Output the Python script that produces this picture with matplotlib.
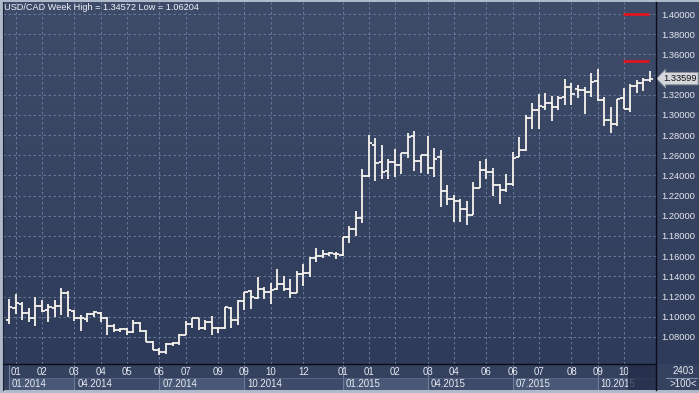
import numpy as np
import matplotlib
matplotlib.use("Agg")
import matplotlib.pyplot as plt
from matplotlib.colors import LinearSegmentedColormap
from matplotlib.patches import Rectangle
from matplotlib.lines import Line2D

# USD/CAD weekly bars (open / high / low / close), first bar = week of 20.01.2014
opens = [1.0964, 1.1083, 1.1130, 1.1034, 1.0991, 1.1110, 1.1067, 1.1090, 1.1106, 1.1232,
         1.1057, 1.0991, 1.0978, 1.1024, 1.1034, 1.0991, 1.0912, 1.0865, 1.0879, 1.0845,
         1.0935, 1.0859, 1.0753, 1.0670, 1.0654, 1.0727, 1.0736, 1.0819, 1.0925, 1.0984,
         1.0892, 1.0951, 1.0885, 1.0885, 1.1091, 1.0965, 1.1154, 1.1256, 1.1190, 1.1273,
         1.1240, 1.1273, 1.1322, 1.1279, 1.1236, 1.1421, 1.1435, 1.1577, 1.1600, 1.1617,
         1.1626, 1.1610, 1.1792, 1.1865, 1.1974, 1.2397, 1.2701, 1.2536, 1.2443, 1.2536,
         1.2503, 1.2625, 1.2790, 1.2546, 1.2602, 1.2469, 1.2585, 1.2244, 1.2164, 1.2148,
         1.2065, 1.2012, 1.2277, 1.2452, 1.2435, 1.2310, 1.2260, 1.2313, 1.2584, 1.2650,
         1.2970, 1.3046, 1.3079, 1.3113, 1.3079, 1.3178, 1.3278, 1.3261, 1.3251, 1.3228,
         1.3334, 1.3152, 1.2947, 1.2914, 1.3169, 1.3063, 1.3290, 1.3315, 1.3345]
highs = [1.1176, 1.1222, 1.1143, 1.1090, 1.1199, 1.1166, 1.1123, 1.1166, 1.1282, 1.1255,
         1.1067, 1.1017, 1.1034, 1.1057, 1.1044, 1.1001, 1.0925, 1.0892, 1.0892, 1.0968,
         1.0951, 1.0865, 1.0760, 1.0687, 1.0736, 1.0753, 1.0826, 1.0958, 1.0991, 1.0991,
         1.0968, 1.1007, 1.0902, 1.1100, 1.1098, 1.1170, 1.1246, 1.1269, 1.1389, 1.1296,
         1.1336, 1.1471, 1.1402, 1.1372, 1.1451, 1.1527, 1.1587, 1.1676, 1.1660, 1.1643,
         1.1643, 1.1792, 1.1898, 1.2046, 1.2463, 1.2800, 1.2767, 1.2701, 1.2559, 1.2658,
         1.2625, 1.2823, 1.2840, 1.2602, 1.2793, 1.2668, 1.2651, 1.2303, 1.2204, 1.2164,
         1.2145, 1.2330, 1.2541, 1.2561, 1.2475, 1.2320, 1.2419, 1.2634, 1.2782, 1.3003,
         1.3113, 1.3212, 1.3222, 1.3185, 1.3185, 1.3354, 1.3317, 1.3301, 1.3278, 1.3420,
         1.3457, 1.3179, 1.3079, 1.3162, 1.3271, 1.3310, 1.3344, 1.3367, 1.3436]
lows = [1.0931, 1.1024, 1.0968, 1.0945, 1.0912, 1.1044, 1.0951, 1.1001, 1.1017, 1.1001,
        1.0958, 1.0859, 1.0951, 1.1001, 1.0951, 1.0819, 1.0852, 1.0852, 1.0819, 1.0840,
        1.0852, 1.0753, 1.0670, 1.0620, 1.0628, 1.0713, 1.0720, 1.0815, 1.0885, 1.0869,
        1.0869, 1.0819, 1.0836, 1.0878, 1.0883, 1.0922, 1.1064, 1.1081, 1.1180, 1.1180,
        1.1121, 1.1269, 1.1256, 1.1190, 1.1236, 1.1306, 1.1395, 1.1544, 1.1577, 1.1603,
        1.1567, 1.1603, 1.1732, 1.1802, 1.1931, 1.2380, 1.2347, 1.2360, 1.2360, 1.2387,
        1.2410, 1.2569, 1.2446, 1.2420, 1.2410, 1.2387, 1.2083, 1.2105, 1.1940, 1.1940,
        1.1913, 1.2006, 1.2277, 1.2369, 1.2197, 1.2121, 1.2231, 1.2297, 1.2584, 1.2640,
        1.2858, 1.2858, 1.3046, 1.2941, 1.3053, 1.3103, 1.3096, 1.3169, 1.3007, 1.3179,
        1.3139, 1.2891, 1.2822, 1.2891, 1.3063, 1.3030, 1.3222, 1.3235, 1.3330]
closes = [1.1093, 1.1133, 1.1034, 1.0991, 1.1110, 1.1057, 1.1100, 1.1106, 1.1232, 1.1067,
          1.0991, 1.0984, 1.1024, 1.1044, 1.0991, 1.0912, 1.0865, 1.0879, 1.0845, 1.0935,
          1.0859, 1.0753, 1.0670, 1.0654, 1.0727, 1.0736, 1.0819, 1.0925, 1.0984, 1.0892,
          1.0951, 1.0885, 1.0885, 1.1093, 1.0965, 1.1157, 1.1246, 1.1197, 1.1273, 1.1246,
          1.1269, 1.1322, 1.1279, 1.1236, 1.1421, 1.1435, 1.1577, 1.1600, 1.1626, 1.1633,
          1.1617, 1.1792, 1.1865, 1.1974, 1.2397, 1.2724, 1.2526, 1.2436, 1.2536, 1.2503,
          1.2625, 1.2783, 1.2546, 1.2602, 1.2469, 1.2562, 1.2248, 1.2164, 1.2148, 1.2065,
          1.2012, 1.2277, 1.2452, 1.2435, 1.2310, 1.2260, 1.2313, 1.2568, 1.2650, 1.2970,
          1.3046, 1.3086, 1.3119, 1.3079, 1.3172, 1.3278, 1.3212, 1.3251, 1.3228, 1.3327,
          1.3152, 1.2947, 1.2914, 1.3162, 1.3063, 1.3290, 1.3315, 1.3345, 1.33599]

# axis labels as the terminal draws them
month_ticks = [1, 5, 10, 14, 18, 23, 27, 32, 36, 40, 45, 51, 55, 59, 64, 68, 73, 77, 81, 86, 90, 94]
month_labels = ["01", "02", "03", "04", "05", "06", "07", "09", "09", "10", "12",
                "01", "01", "02", "03", "04", "06", "06", "07", "08", "09", "10"]
period_starts = [0, 10, 23, 36, 51, 64, 77, 90]
period_labels = ["01.2014", "04.2014", "07.2014", "10.2014",
                 "01.2015", "04.2015", "07.2015", "10.2015"]
price_ticks = [1.08, 1.10, 1.12, 1.14, 1.16, 1.18, 1.20, 1.22, 1.24,
               1.26, 1.28, 1.30, 1.32, 1.34, 1.36, 1.38, 1.40]
alert_levels = [1.40, 1.3534]
title = "USD/CAD Week High = 1.34572 Low = 1.06204"

# ---- layout in pixels ----
W, H = 699, 393
PL, PR, PT, PB = 3, 656, 2, 364      # price pane
AXB = 390                             # bottom of time axis
STEP = 6.54                           # px per bar
X0 = 9                                # px of first bar
YTOP, YBOT = 1.4119, 1.0531

FONT = "Liberation Sans"
FS = 6.7
TXT = "#e6eaf0"

def fb(px_l, px_t, px_w, px_h):
    return [px_l / W, 1 - (px_t + px_h) / H, px_w / W, px_h / H]

n = len(opens)
x = np.arange(n)
xlim = (-(X0 - PL) / STEP, (PR - X0) / STEP)

fig = plt.figure(figsize=(W / 100, H / 100), dpi=100, facecolor="#aeb9ca")

# gradient background behind price pane + right scale
bg = fig.add_axes(fb(PL, PT, W - PL, PB - PT))
cmap = LinearSegmentedColormap.from_list("bg", ["#3f4c69", "#2e3b5a"])
bg.imshow(np.linspace(0, 1, 256).reshape(-1, 1), aspect="auto", cmap=cmap,
          extent=[0, 1, 0, 1], origin="upper")
bg.set_axis_off()

ax = fig.add_axes(fb(PL, PT, PR - PL, PB - PT))
ax.set_facecolor("none")
ax.set_xlim(*xlim)
ax.set_ylim(YBOT, YTOP)
for s in ax.spines.values():
    s.set_visible(False)

ax.set_xticks(month_ticks)
ax.set_xticklabels([])
ax.set_yticks(price_ticks)
ax.yaxis.tick_right()
ax.set_yticklabels([f"{v:.5f}" for v in price_ticks], fontsize=FS,
                   family=FONT, color=TXT)
ax.tick_params(axis="both", length=0)
ax.tick_params(axis="y", pad=4)
ax.grid(True, color="#65779a", linewidth=0.75, linestyle=(0, (2.4, 2.4)))
ax.set_axisbelow(True)

bar_col = "#f7f4ee"
ax.vlines(x, lows, highs, color=bar_col, linewidth=1.3, zorder=3)
ax.hlines(opens, x - 0.5, x, color=bar_col, linewidth=1.3, zorder=3)
ax.hlines(closes, x, x + 0.5, color=bar_col, linewidth=1.3, zorder=3)

for lvl in alert_levels:
    ax.hlines(lvl, 93.9, 97.9, color="#e3141a", linewidth=1.9, zorder=4)

ax.text(1 / (PR - PL), 1 - 6 / (PB - PT), title, transform=ax.transAxes,
        fontsize=FS - 0.1, family=FONT, color="#f2f4f8", va="center", ha="left")

# last price tag (covers the 1.34000 scale label, as in the terminal)
ax.text(1 + 7 / (PR - PL), closes[-1], f"{closes[-1]:.5f}",
        transform=ax.get_yaxis_transform(), fontsize=FS, family=FONT,
        color="#101010", va="center", ha="left", zorder=6, clip_on=False,
        bbox=dict(boxstyle="larrow,pad=0.18", fc="#d4d7dc", ec="#8a909a", lw=0.7))

# ---- time axis ----
tax = fig.add_axes(fb(PL, PB, PR - PL, AXB - PB))
tax.set_xlim(*xlim)
tax.set_ylim(0, AXB - PB)
tax.set_facecolor("#34415f")
tax.set_axis_off()
tax.add_patch(Rectangle((xlim[0], 0), xlim[1] - xlim[0], AXB - PB,
                        fc="#34415f", ec="none", zorder=0))
ends = period_starts[1:] + [xlim[1]]
for k, (a, b, lab) in enumerate(zip(period_starts, ends, period_labels)):
    fc = "#4a5878" if k % 2 == 0 else "#3d4a69"
    tax.add_patch(Rectangle((a, 0), b - a, 12, fc=fc, ec="none", zorder=1))
    tax.plot([a, a], [0, AXB - PB], color="#6d7c98", lw=0.8, zorder=2)
    tax.plot([a, b], [12, 12], color="#5a6886", lw=0.6, zorder=2)
    tax.text(a + 3 / STEP, 6, lab, fontsize=FS + 0.3, family=FONT, color=TXT,
             va="center", ha="left", zorder=3)
for t, lab in zip(month_ticks, month_labels):
    tax.text(t, 18, lab, fontsize=FS + 0.2, family=FONT, color=TXT,
             va="center", ha="center", zorder=3)
# shaded future area
tax.add_patch(Rectangle(((628 - X0) / STEP, 0), xlim[1] - (628 - X0) / STEP, AXB - PB,
                        fc="#232c47", ec="none", alpha=0.75, zorder=4))

# right bottom box
rax = fig.add_axes(fb(PR, PB, W - PR, AXB - PB))
rax.set_xlim(0, W - PR)
rax.set_ylim(0, AXB - PB)
rax.set_facecolor("#34415f")
rax.set_xticks([])
rax.set_yticks([])
for s in rax.spines.values():
    s.set_visible(False)
rax.text(27, 18.5, "2403", fontsize=FS + 0.3, family=FONT, color=TXT, ha="center", va="center")
rax.plot([10, 41], [12.5, 12.5], color="#8090aa", lw=0.8)
rax.text(27, 6, ">100<", fontsize=FS + 0.3, family=FONT, color=TXT, ha="center", va="center")

# separators
fig.add_artist(Line2D([PL / W, PR / W], [1 - PB / H, 1 - PB / H], color="#0a0d18", lw=1.0))
fig.add_artist(Line2D([PR / W, PR / W], [1 - PT / H, 1 - AXB / H], color="#0a0d18", lw=1.0))
fig.add_artist(Line2D([PL / W, PL / W], [1 - PT / H, 1 - AXB / H], color="#1c2236", lw=0.8))

fig.savefig("out.png", dpi=100, facecolor=fig.get_facecolor())
